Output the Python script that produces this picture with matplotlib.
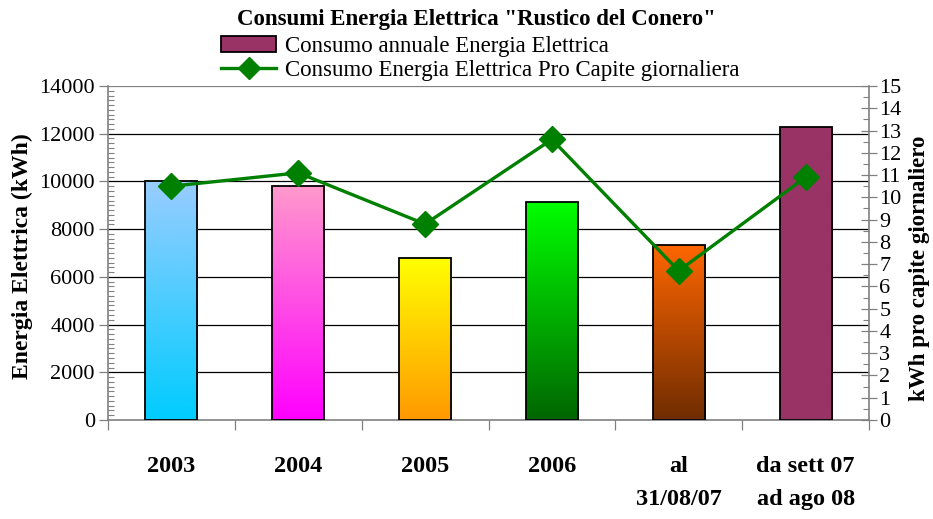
import numpy as np
import matplotlib
matplotlib.use("Agg")
import matplotlib.pyplot as plt
from matplotlib.colors import to_rgb
from matplotlib.patches import Patch
from matplotlib.lines import Line2D
from matplotlib.ticker import MultipleLocator, FixedLocator

# ---- data ----
categories = ["2003", "2004", "2005", "2006", "al\n31/08/07", "da sett 07\nad ago 08"]
annual_kwh = [10000, 9800, 6800, 9150, 7350, 12300]
per_capita = [10.5, 11.1, 8.8, 12.6, 6.7, 10.9]
title = 'Consumi Energia Elettrica "Rustico del Conero"'
bar_label = "Consumo annuale Energia Elettrica"
line_label = "Consumo Energia Elettrica Pro Capite giornaliera"
left_label = "Energia Elettrica (kWh)"
right_label = "kWh pro capite giornaliero"

# ---- styles ----
top_colors = ["#99CCFF", "#FF99CC", "#FFFF00", "#00FF00", "#FF6600", "#993366"]
bottom_colors = ["#00CCFF", "#FF00FF", "#FF9900", "#006600", "#702C00", "#993366"]
green = "#008000"
axis_grey = "#808080"

plt.rcParams["font.family"] = ["Liberation Serif", "DejaVu Serif"]

fig = plt.figure(figsize=(9.33, 5.19), dpi=100)
ax = fig.add_axes([108 / 933, 1 - 420 / 519, 761 / 933, 334 / 519])
ax2 = ax.twinx()

x = np.arange(len(categories))
bars = ax.bar(x, annual_kwh, width=0.41, facecolor="none", edgecolor="black",
              linewidth=1.3, zorder=3)

# gradient fills clipped to bars
for i, b in enumerate(bars):
    c_top = np.array(to_rgb(top_colors[i]))
    c_bot = np.array(to_rgb(bottom_colors[i]))
    t = np.linspace(0, 1, 256)[:, None]
    grad = (c_bot[None, :] * (1 - t) + c_top[None, :] * t)[:, None, :]
    x0 = b.get_x()
    w = b.get_width()
    h = b.get_height()
    im = ax.imshow(grad, extent=[x0, x0 + w, 0, h], origin="lower",
                   aspect="auto", zorder=2, interpolation="bilinear")
    im.set_clip_path(b)
ax.set_xlim(-0.5, len(categories) - 0.5)
ax.set_ylim(0, 14000)

# gridlines
for v in range(2000, 14001, 2000):
    ax.axhline(v, color=axis_grey if v == 14000 else "black", lw=0.9, zorder=1)

# left axis ticks
ax.yaxis.set_major_locator(MultipleLocator(2000))
ax.yaxis.set_minor_locator(MultipleLocator(200))
ax.tick_params(axis="y", which="major", direction="out", length=6.5, width=0.9,
               color=axis_grey, labelsize=16, pad=3)
ax.tick_params(axis="y", which="minor", direction="in", length=4, width=0.8,
               color=axis_grey)

# x axis
ax.set_xticks(x)
ax.set_xticklabels(categories, fontsize=17.5, fontweight="bold", linespacing=1.75)
ax.xaxis.set_minor_locator(FixedLocator(np.arange(-0.5, len(categories), 1.0)))
ax.tick_params(axis="x", which="major", length=0, pad=26)
ax.tick_params(axis="x", which="minor", direction="out", length=7, width=0.9,
               color=axis_grey)
for lab in ax.get_xticklabels():
    lab.set_verticalalignment("top")
    lab.set_horizontalalignment("center")

for s in ["top", "right"]:
    ax.spines[s].set_visible(False)
for s in ["left", "bottom"]:
    ax.spines[s].set_color(axis_grey)
    ax.spines[s].set_linewidth(1.2)

# right axis line
ax2.plot(x, per_capita, color=green, lw=2.4, marker="D", markersize=13,
         markerfacecolor=green, markeredgecolor=green, zorder=5)
ax2.set_ylim(0, 15)
ax2.yaxis.set_major_locator(MultipleLocator(1))
ax2.yaxis.set_minor_locator(MultipleLocator(0.5))
ax2.tick_params(axis="y", which="major", direction="inout", length=11, width=0.9,
                color=axis_grey, labelsize=16, pad=2)
ax2.tick_params(axis="y", which="minor", direction="in", length=4.5, width=0.8,
                color=axis_grey)
for s in ["top", "left", "bottom"]:
    ax2.spines[s].set_visible(False)
ax2.spines["right"].set_color(axis_grey)
ax2.spines["right"].set_linewidth(1.2)

# axis titles
fig.text(22 / 933, 1 - 256 / 519, left_label, rotation=90, ha="center",
         va="center", fontsize=17, fontweight="bold")
fig.text(919 / 933, 1 - 268 / 519, right_label, rotation=90, ha="center",
         va="center", fontsize=16.5, fontweight="bold")

# title
fig.text(476 / 933, 1 - 19 / 519, title, ha="center", va="center",
         fontsize=16.5, fontweight="bold")

# legend
handles = [Patch(facecolor="#993366", edgecolor="black", linewidth=1.3),
           Line2D([0], [0], color=green, lw=2.4, marker="D", markersize=11,
                  markerfacecolor=green)]
fig.legend(handles, [bar_label, line_label], loc="upper left",
           bbox_to_anchor=(221 / 933, 1 - 36 / 519), frameon=False,
           fontsize=16.5, handlelength=2.4, handleheight=0.7, handletextpad=0.4,
           labelspacing=0.12, borderpad=0, borderaxespad=0)

fig.savefig("out.png", dpi=100)
